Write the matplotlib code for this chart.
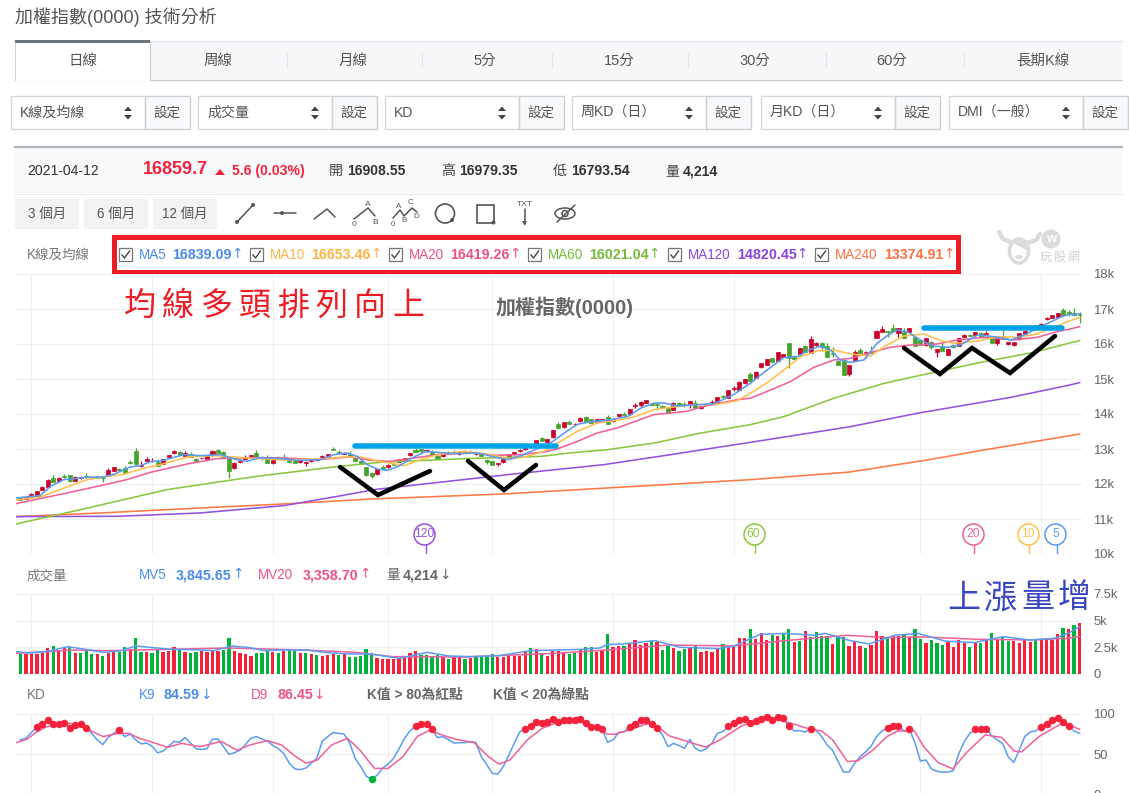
import matplotlib
matplotlib.use("Agg")
import matplotlib.pyplot as plt
from matplotlib.patches import Rectangle, FancyBboxPatch, Circle, Ellipse, Polygon

plt.rcParams['font.family'] = ['Liberation Sans', 'Noto Sans CJK TC', 'DejaVu Sans']

# daily candles
opens = [11600, 11570, 11630, 11670, 11840, 11925, 12170, 12075, 12240, 12255,
         12095, 12175, 12230, 12200, 12200, 12200, 12240, 12380, 12440, 12450,
         12640, 12950, 12515, 12670, 12650, 12630, 12580, 12760, 12875, 12925,
         12800, 12845, 12725, 12730, 12715, 12820, 12980, 12925, 12770, 12450,
         12620, 12715, 12745, 12895, 12780, 12715, 12610, 12760, 12735, 12675,
         12675, 12620, 12610, 12660, 12680, 12715, 12780, 13010, 12925, 12860,
         12865, 12770, 12665, 12485, 12315, 12275, 12485, 12480, 12570, 12630,
         12665, 12820, 12980, 13000, 12950, 12915, 12810, 12790, 12905, 12905,
         12850, 12930, 12905, 12850, 12860, 12695, 12655, 12560, 12620, 12770,
         12850, 12930, 12995, 13065, 13140, 13315, 13210, 13335, 13720, 13620,
         13780, 13705, 13790, 13915, 13855, 13760, 13820, 13915, 13790, 13950,
         14010, 13990, 14220, 14258, 14315, 14275, 14275, 14230, 14180, 14125,
         14305, 14285, 14260, 14325, 14165, 14250, 14275, 14345, 14505, 14465,
         14705, 14690, 14885, 15130, 15040, 15335, 15410, 15590, 15525, 15640,
         16020, 15670, 15715, 15945, 15755, 15965, 16020, 15945, 15755, 15515,
         15545, 15145, 15525, 15830, 15755, 15780, 16175, 16350, 16360, 16455,
         16305, 16345, 16355, 16190, 16115, 15975, 16065, 15765, 15945, 15690,
         15975, 15955, 16205, 16265, 16250, 16305, 16285, 16180, 16040, 16240,
         15990, 15985, 16135, 16300, 16470, 16535, 16515, 16705, 16745, 16785,
         16970, 16908.55, 16875, 16860]
highs = [11620, 11630, 11750, 11810, 11945, 12130, 12255, 12200, 12295, 12270,
         12240, 12240, 12315, 12240, 12255, 12240, 12455, 12490, 12460, 12525,
         12695, 13040, 12655, 12780, 12745, 12685, 12725, 12840, 12980, 12935,
         12945, 12915, 12740, 12750, 12800, 12960, 12990, 12955, 12780, 12630,
         12705, 12830, 12830, 12980, 12790, 12840, 12690, 12810, 12865, 12690,
         12685, 12690, 12665, 12700, 12720, 12815, 12860, 13050, 12980, 12900,
         12935, 12780, 12675, 12495, 12330, 12440, 12550, 12560, 12610, 12725,
         12750, 12895, 13015, 13010, 12985, 12980, 12825, 12920, 12950, 12960,
         12930, 12970, 12980, 12880, 12870, 12700, 12665, 12600, 12740, 12860,
         12920, 12990, 13090, 13130, 13270, 13340, 13290, 13550, 13760, 13780,
         13820, 13740, 13900, 13950, 13870, 13860, 13865, 13970, 13850, 13995,
         14050, 14150, 14315, 14370, 14400, 14310, 14315, 14260, 14190, 14335,
         14355, 14355, 14370, 14390, 14220, 14310, 14400, 14490, 14545, 14680,
         14790, 14945, 15000, 15190, 15215, 15460, 15565, 15600, 15770, 15710,
         16030, 15680, 15890, 15960, 16230, 16045, 16050, 16040, 15925, 15530,
         15555, 15405, 15830, 15880, 15790, 15945, 16400, 16515, 16375, 16570,
         16450, 16450, 16450, 16200, 16125, 16185, 16075, 15850, 16065, 15860,
         16000, 16170, 16280, 16290, 16340, 16340, 16380, 16195, 16190, 16450,
         16060, 16065, 16310, 16395, 16530, 16550, 16590, 16770, 16830, 16900,
         17020, 16979.35, 17020, 16925]
lows = [11550, 11560, 11620, 11660, 11830, 11920, 12050, 12065, 12185, 12050,
        12080, 12140, 12170, 12150, 12170, 12070, 12230, 12370, 12380, 12295,
        12580, 12550, 12485, 12650, 12620, 12505, 12570, 12750, 12865, 12815,
        12790, 12770, 12640, 12720, 12700, 12810, 12875, 12770, 12160, 12440,
        12590, 12700, 12735, 12780, 12695, 12590, 12580, 12680, 12700, 12590,
        12590, 12610, 12505, 12640, 12660, 12700, 12770, 12965, 12870, 12850,
        12805, 12645, 12570, 12240, 12170, 12265, 12430, 12470, 12540, 12620,
        12655, 12810, 12900, 12865, 12925, 12815, 12720, 12780, 12870, 12880,
        12840, 12900, 12880, 12840, 12790, 12580, 12530, 12505, 12610, 12760,
        12840, 12920, 12985, 13055, 13130, 13225, 13200, 13325, 13585, 13610,
        13710, 13695, 13780, 13780, 13735, 13750, 13810, 13700, 13780, 13940,
        13955, 13980, 14160, 14200, 14305, 14235, 14115, 14160, 14040, 14115,
        14220, 14200, 14180, 14160, 14150, 14240, 14265, 14335, 14450, 14455,
        14665, 14680, 14855, 14880, 15030, 15325, 15400, 15475, 15515, 15630,
        15315, 15585, 15700, 15785, 15745, 15955, 15810, 15630, 15640, 15400,
        15125, 15085, 15515, 15750, 15610, 15745, 16165, 16340, 16210, 16375,
        16210, 16170, 16345, 15945, 15975, 15930, 15850, 15640, 15810, 15680,
        15900, 15945, 16195, 16230, 16240, 16205, 16275, 16040, 15970, 16130,
        15980, 15945, 16125, 16290, 16460, 16465, 16505, 16695, 16735, 16775,
        16840, 16793.54, 16810, 16590]
closes = [11555, 11620, 11715, 11800, 11915, 12125, 12065, 12170, 12190, 12075,
          12210, 12200, 12190, 12170, 12180, 12180, 12410, 12485, 12390, 12315,
          12590, 12580, 12545, 12725, 12665, 12525, 12715, 12820, 12930, 12820,
          12885, 12770, 12650, 12745, 12790, 12950, 12880, 12770, 12370, 12600,
          12665, 12770, 12825, 12780, 12750, 12590, 12685, 12715, 12705, 12620,
          12590, 12675, 12630, 12680, 12700, 12810, 12855, 12970, 12875, 12885,
          12810, 12650, 12570, 12250, 12220, 12435, 12440, 12535, 12550, 12715,
          12745, 12885, 12925, 12935, 12965, 12820, 12725, 12915, 12885, 12885,
          12925, 12915, 12885, 12870, 12790, 12640, 12535, 12600, 12735, 12855,
          12915, 12980, 13070, 13110, 13260, 13230, 13285, 13540, 13590, 13770,
          13715, 13725, 13895, 13780, 13735, 13855, 13855, 13705, 13845, 13990,
          13960, 14140, 14255, 14353, 14390, 14250, 14250, 14195, 14040, 14305,
          14260, 14260, 14360, 14165, 14220, 14270, 14335, 14485, 14475, 14675,
          14750, 14915, 14990, 14950, 15210, 15450, 15560, 15480, 15765, 15705,
          15590, 15585, 15885, 15785, 16135, 16040, 15925, 15640, 15715, 15410,
          15125, 15400, 15765, 15755, 15775, 15755, 16370, 16425, 16335, 16380,
          16445, 16175, 16445, 15945, 15975, 16180, 15905, 15850, 15810, 15850,
          15905, 16165, 16265, 16240, 16335, 16210, 16325, 16040, 16180, 16135,
          16055, 16055, 16305, 16370, 16515, 16470, 16570, 16750, 16830, 16895,
          16840, 16859.70, 16820, 16840]

# moving averages: trading day index and level
ma5_days = [-0.8, 3.6, 5.5, 7.9, 12.2, 15.2, 17.3, 20, 21.9, 23.7, 26.1, 29.8, 32.8, 36.5, 38.9, 41.3, 43.4,
            46.8, 50.4, 54.7, 57.1, 59.5, 61.4, 63.2, 65, 66.8, 68.9, 71.7, 73.8, 76, 79.7, 83.4, 86.4, 88.8,
            91.3, 94.2, 96.6, 99.1, 101.5, 103.9, 106.9, 110.7, 113.1, 115.5, 117.3, 119.7, 123.5, 126.4,
            130, 133, 134.9, 136.7, 139.1, 141.6, 144, 145.8, 147.6, 149.4, 151.3, 153.7, 156.1, 157.9, 159.7,
            161.6, 164, 166.4, 168.9, 171.3, 174.4, 177.4, 180.5, 182.9, 185.3, 187.8, 190, 191, 193]
ma5 = [11601, 11668, 11934, 12125, 12191, 12201, 12296, 12486, 12524, 12639, 12677, 12839, 12810, 12839, 12715,
       12648, 12743, 12734, 12677, 12696, 12839, 12886, 12791, 12553, 12429, 12391, 12505, 12772, 12924, 12905,
       12867, 12886, 12772, 12696, 12810, 13010, 13172, 13457, 13705, 13781, 13819, 13933, 14171, 14314, 14314,
       14228, 14267, 14295, 14560, 14877, 15115, 15334, 15610, 15639, 15848, 15943, 15829, 15543, 15477, 15543,
       16019, 16229, 16400, 16353, 16115, 15943, 15905, 15972, 16257, 16210, 16115, 16257, 16448, 16638, 16800,
       16839.09, 16857]
ma10_days = [-0.8, 3.6, 8.5, 12.2, 14.6, 18.8, 22.5, 25.5, 30.4, 35.2, 38.9, 42.5, 48, 54.1, 59, 62, 65.6, 69.9,
             72.9, 76.6, 80.8, 85, 89.3, 92.3, 95.4, 98.4, 101.5, 105.1, 108.7, 111.8, 115.4, 119, 122.7, 127,
             130.6, 133, 136.1, 139.1, 142.2, 145.2, 148.2, 151.3, 154.9, 157.4, 161, 164.7, 167.7, 170.2, 174.4,
             178, 181.7, 185.3, 187.8, 191, 193]
ma10 = [11544, 11629, 11915, 12125, 12191, 12277, 12448, 12553, 12772, 12810, 12772, 12734, 12686, 12715, 12772,
        12772, 12648, 12524, 12696, 12858, 12933, 12858, 12715, 12791, 12933, 13219, 13505, 13743, 13819, 13914,
        14124, 14200, 14267, 14276, 14381, 14591, 14896, 15258, 15639, 15801, 15829, 15715, 15658, 15924, 16229,
        16286, 16096, 16019, 16086, 16210, 16191, 16286, 16448, 16653.46, 16752]
ma20_days = [-0.8, 8.5, 14.6, 19.4, 23.7, 30.4, 35.8, 41.9, 48, 54.1, 60.1, 63.8, 67.4, 71.7, 76, 82, 86.9, 91.1,
             95.4, 97.8, 101.5, 105.1, 108.7, 115.4, 121.5, 124.5, 130.6, 133, 136.7, 140.3, 144.6, 148.2, 151.3,
             154.3, 158.5, 162.2, 167, 170.7, 175.6, 181, 185.3, 188.9, 191, 193]
ma20 = [11439, 11744, 11953, 12125, 12334, 12572, 12724, 12753, 12743, 12696, 12772, 12677, 12648, 12743, 12839,
        12886, 12820, 12839, 12915, 13000, 13219, 13457, 13600, 13981, 14076, 14219, 14409, 14449, 14687, 14925,
        15334, 15543, 15591, 15734, 15905, 15972, 16000, 16115, 16191, 16115, 16191, 16353, 16419.26, 16495]
ma60_days = [-0.8, 11.5, 26.7, 43.1, 57.1, 65.6, 80.8, 95, 100, 107, 115.5, 124, 133, 139.1, 148.2, 157.4, 163.4,
             175.6, 184.7, 191, 193]
ma60 = [10858, 11287, 11839, 12220, 12486, 12620, 12724, 12791, 12886, 12981, 13171, 13457, 13696, 13925, 14449,
        14877, 15086, 15496, 15762, 16021.04, 16096]
ma120_days = [-0.8, 17.6, 32.8, 48, 57.1, 65, 90.5, 106.3, 118.5, 133, 151.3, 163.4, 180.5, 191, 193]
ma120 = [11068, 11077, 11173, 11382, 11629, 11850, 12296, 12553, 12839, 13190, 13640, 14020, 14477, 14820.45, 14896]
ma240_days = [-0.8, 14.6, 32.8, 48, 64, 88.1, 133, 151, 165, 175.6, 191, 193]
ma240 = [11068, 11172, 11315, 11430, 11572, 11715, 12124, 12340, 12680, 12973, 13374.91, 13430]

# volume bars, R = price up against the previous day, G = down
volumes = [1880, 1880, 1880, 1840, 1940, 2410, 2630, 2250, 2440, 2500,
           1970, 1970, 2250, 1880, 1880, 1690, 2000, 2030, 2090, 2500,
           2310, 3380, 2060, 2060, 1970, 2250, 2060, 2190, 2500, 2310,
           2060, 1970, 2060, 2190, 2090, 2190, 2190, 2250, 3380, 2120,
           1940, 1840, 1690, 2000, 2000, 2250, 2090, 1970, 2190, 2250,
           2190, 1970, 2000, 1880, 1780, 1690, 1780, 1840, 1780, 1880,
           1590, 1590, 1690, 2340, 1940, 1500, 1410, 1380, 1410, 1470,
           1590, 1940, 2160, 1810, 1780, 1720, 1810, 1590, 1410, 1590,
           1590, 1410, 1530, 1590, 1630, 1630, 1840, 1590, 1590, 1720,
           1720, 1720, 2060, 2440, 2340, 1940, 1720, 2190, 2190, 1940,
           1880, 1940, 2250, 2530, 2530, 2090, 2190, 3750, 2530, 2630,
           2630, 2810, 3190, 2720, 2880, 3060, 3030, 2250, 2630, 2440,
           2160, 2340, 2440, 2720, 2060, 2160, 2060, 2340, 2810, 2500,
           2530, 3380, 3380, 4220, 3280, 3840, 3190, 3660, 3560, 3840,
           4220, 3000, 3090, 4030, 3440, 3940, 3530, 3560, 2810, 3530,
           3440, 2630, 3000, 2630, 2440, 2720, 4030, 3560, 3440, 3560,
           3560, 3750, 3440, 4220, 3280, 2910, 3190, 2910, 2720, 3000,
           2530, 3190, 2910, 2530, 2880, 2940, 3190, 3840, 3280, 3440,
           3090, 3090, 2910, 3190, 3030, 3250, 3190, 3160, 3190, 3750,
           4310, 4214, 4590, 4780]
vol_dirs = ("GRRRRRGRRG" "RGGGRGRRGG" "RGGRGGRRRG" "RGGRRRRGGR"
            "RRRGGGRGRG" "GRGRGRRRGR" "GGGGGRRRRR" "RRRGGGGRGR"
            "RGRGGGGRRR" "RRRGRGRRRR" "GGRGGRRGRR" "GRRRRGRGGR"
            "GGRGRRRRGR" "RRRGRRRGRG" "GRGRGGGGRG" "GRRRGRRRGR"
            "RGRGGRGGGR" "RRRGRGRGRG" "GRRRRGRRRR" "GRGR")
mv5_days = [-0.8, 1.8, 4.7, 8.6, 11.9, 15.1, 18.4, 21, 24.2, 27.5, 31.4, 35.3, 38.5, 41.8, 44.4, 48.2, 52.1, 56,
            59.9, 63.8, 69, 74.2, 78.1, 82, 87.2, 93, 97.6, 102.3, 105.6, 106.9, 109.6, 115.6, 120.2, 127.5, 130.1,
            134.8, 139.4, 144.7, 146.7, 150.7, 154.6, 159.3, 163.6, 168.5, 173.8, 179.1, 183.8, 188.4, 191, 193]
mv5 = [2090, 1970, 2090, 2560, 2310, 2030, 2190, 2630, 2470, 2310, 2280, 2190, 2630, 2470, 2190, 2250, 2250, 2000,
       1880, 1880, 1470, 2030, 1690, 1630, 1720, 2190, 2250, 2310, 2440, 2750, 2810, 3130, 2500, 2380, 2630, 3720,
       3810, 3630, 3810, 3190, 2810, 3630, 3810, 3090, 2940, 3500, 3190, 3340, 3845.65, 4440]
mv20_days = [-0.8, 9.3, 15.8, 37.9, 51.5, 61.2, 67.7, 80.7, 97.6, 106.9, 118.2, 129.5, 140.7, 150.7, 158, 164.6,
             174.5, 184.4, 191, 193]
mv20 = [1940, 2250, 2190, 2440, 2250, 2030, 1630, 1590, 1940, 2250, 2720, 2630, 3190, 3630, 3410, 3470, 3250, 3190,
        3358.70, 3530]

# KD oscillator
k9 = [67.8, 70, 77, 84, 88, 92, 88, 88, 89, 83, 86, 88, 83, 76, 68, 62, 71, 76, 80.5, 72,
      75, 68, 63, 64, 60, 52, 54, 60, 66, 65, 71, 64, 57, 56, 57, 69, 69, 59.5, 50, 52,
      55, 62, 70, 72, 69, 66.5, 61, 57, 51, 39, 32, 31, 33, 39, 45, 66, 72, 77, 76, 75,
      64, 45, 35, 23, 19.4, 24, 33, 38, 45, 57, 70, 79, 85.5, 88, 87.6, 81, 70.7, 72, 68, 64,
      64.5, 64.5, 66, 64.5, 47, 37, 26.5, 25.6, 35, 49, 64, 78, 82, 85.5, 90, 89, 90, 94, 90, 92,
      92, 92, 94, 89, 84, 84, 81.4, 65, 68, 77, 78, 84, 87.6, 92, 93, 87, 83, 74, 59.5, 63.6,
      61, 57.4, 68.6, 57.4, 54, 57, 63.6, 76, 78, 85, 89, 92, 94, 89, 91, 94, 96, 93, 96, 94.6,
      85, 79, 79.5, 77.7, 81.4, 79.6, 72, 61.6, 55, 41, 28, 28, 39, 47, 53, 60, 72, 79, 83, 84.7,
      85.5, 79, 81, 64.5, 41.7, 43, 32, 29, 28, 28, 30, 51, 66, 76, 81, 81, 82, 73, 68, 63,
      47, 40, 55, 72, 77.7, 79, 84, 87, 92, 95.5, 90.5, 84.59, 79, 76]
d9_days = [-0.8, 1.2, 2.8, 4.7, 7, 9, 11.2, 13.2, 15.1, 17.7, 19.8, 21.6, 23.6, 26.8, 29.4, 32.7, 36.6, 39.5, 41.8,
           45, 47.6, 50.2, 52.1, 54.1, 56.7, 59.6, 61.9, 64.5, 67, 69.7, 72.3, 74.6, 76.8, 79.4, 82.7, 85.3, 87.2,
           89.2, 92.4, 95, 97.6, 102.3, 105, 107, 108.3, 110.9, 114.2, 116.2, 118.2, 121.5, 124.8, 127.5, 131.5,
           135.4, 138.7, 140.7, 144, 146, 148, 150.7, 152.6, 155.3, 157.9, 159.9, 162.9, 164.6, 167.2, 169.9,
           172.5, 175.8, 178.8, 181.1, 182.4, 185.8, 189.7, 191, 193]
d9 = [64.5, 68.6, 77, 84, 87.6, 88.4, 86.4, 78, 72, 76, 76, 70, 66, 58.7, 63.6, 59.5, 66, 55, 61.6,
      67, 61.6, 47, 39, 43, 61.6, 70, 55, 32.6, 32.6, 47, 72, 80, 74, 68.6, 64.5, 47, 38,
      43, 68, 82, 89, 90, 82, 75, 75, 80, 88, 84, 73, 66, 59, 68, 85.5,
      94, 92, 88, 81, 79, 68, 41, 42, 55, 72, 79, 79, 59.5, 40, 32,
      53, 74, 71, 54, 53, 73, 88, 86.45, 81]

grid_days = [2, 24, 46, 67, 86, 108, 130, 164, 186]
price_ticks = [10000, 11000, 12000, 13000, 14000, 15000, 16000, 17000, 18000]
price_labels = ['10k', '11k', '12k', '13k', '14k', '15k', '16k', '17k', '18k']
vol_ticks = [0, 2500, 5000, 7500]
vol_labels = ['0', '2.5k', '5k', '7.5k']
kd_ticks = [0, 50, 100]
kd_labels = ['0', '50', '100']

ma_names = ['MA5', 'MA10', 'MA20', 'MA60', 'MA120', 'MA240']
ma_values = ['16839.09', '16653.46', '16419.26', '16021.04', '14820.45', '13374.91']
ma_text_colors = ['#4a8cf0', '#ffb347', '#f0508c', '#76bb3c', '#8a47e0', '#ff7043']
ma_line_colors = ['#5b9bf0', '#ffc04d', '#f0609a', '#8cc63f', '#9254de', '#ff7a45']
ma_periods = [120, 60, 20, 10, 5]

tab_names = ['日線', '周線', '月線', '5分', '15分', '30分', '60分', '長期K線']
select_names = ['K線及均線', '成交量', 'KD', '周KD（日）', '月KD（日）', 'DMI（一般）']

W, H = 1129, 793
CANDLE_RED, CANDLE_GREEN = '#c9002b', '#45a22a'
VOL_RED, VOL_GREEN = '#f5223c', '#00b33c'
GRID = '#efefef'
days = list(range(len(closes)))
x_left = -0.8
x_right = 193.44


def pts(px):
    return px * 0.72


def panel(top, bottom):
    # axes placed by pixel rows, right edge leaves room for the tick labels
    ax = fig.add_axes([16 / W, 1 - bottom / H, (1082 - 16) / W, (bottom - top) / H], zorder=2)
    ax.patch.set_alpha(0)
    for s in ax.spines.values():
        s.set_visible(False)
    ax.set_xlim(x_left, x_right)
    ax.set_xticks(grid_days)
    ax.yaxis.tick_right()
    ax.tick_params(length=0, labelbottom=False, labelsize=pts(13), labelcolor='#666666', pad=8)
    ax.grid(True, color=GRID, lw=0.8)
    ax.set_axisbelow(True)
    return ax


fig = plt.figure(figsize=(W / 100, H / 100), dpi=100, facecolor='white')

# page furniture lives in a pixel-based axes underneath the charts
ui = fig.add_axes([0, 0, 1, 1], zorder=1)
ui.set_xlim(0, W)
ui.set_ylim(H, 0)
ui.axis('off')


def label(x, y, s, px=14, color='#555555', weight='normal', ha='left', target=None):
    (target or ui).text(x, y, s, fontsize=pts(px), color=color, fontweight=weight, ha=ha, va='center')


def arrow(x, y, s, color):
    # DejaVu arrows are narrow enough to sit right after the value
    ui.text(x, y, s, fontsize=pts(13.5), color=color, ha='center', va='center', family=['DejaVu Sans'])


label(15, 17, '加權指數(0000) 技術分析', px=18)

# tab bar
ui.add_patch(Rectangle((15, 41), 1107, 38, fc='#f7f8fa', ec='none'))
ui.plot([15, 1122], [41, 41], color='#e2e5e8', lw=0.8)
ui.plot([15, 1122], [79.5, 79.5], color='#c9cdd1', lw=0.9)
ui.add_patch(Rectangle((15, 41), 135, 39.5, fc='white', ec='none', zorder=2))
ui.plot([15, 15], [41, 80], color='#d0d4d8', lw=0.8, zorder=3)
ui.plot([150, 150], [41, 80], color='#c9cdd1', lw=0.8, zorder=3)
ui.add_patch(Rectangle((15, 40), 135, 3, fc='#6c757d', ec='none', zorder=3))
for x in [287, 422, 552, 688, 826, 964]:
    ui.plot([x, x], [53, 67], color='#e4e6e9', lw=0.8)
for cx, name in zip([83, 218, 353, 485, 619, 755, 892, 1043], tab_names):
    label(cx, 61, name, px=14.5, ha='center', target=ui)

# dropdowns with their settings buttons
select_left = [11, 198, 385, 572, 761, 949]
for x0, name in zip(select_left, select_names):
    ui.add_patch(Rectangle((x0, 96), 134, 33, fc='white', ec='#d5d9dd', lw=1))
    ui.add_patch(Rectangle((x0 + 134, 96), 45, 33, fc='#f8f9fa', ec='#ccd0d4', lw=1))
    label(x0 + 9, 113, name, px=14)
    label(x0 + 156, 113, '設定', px=13.5, ha='center')
    ax_x = x0 + 117
    ui.add_patch(Polygon([(ax_x - 4, 111), (ax_x + 4, 111), (ax_x, 106.5)], fc='#444444', ec='none'))
    ui.add_patch(Polygon([(ax_x - 4, 115), (ax_x + 4, 115), (ax_x, 119.5)], fc='#444444', ec='none'))

# quote strip
ui.add_patch(Rectangle((15, 147), 1107, 46, fc='#f8f9fa', ec='none'))
ui.plot([15, 1122], [147, 147], color='#aeb5bb', lw=1.6)
ui.plot([15, 1122], [193.5, 193.5], color='#e9ecef', lw=0.8)
label(27, 171, '2021-04-12', px=14, color='#333333')
label(143, 170, '16859.7', px=18, color='#f5223c', weight='bold')
ui.add_patch(Polygon([(215, 175), (225, 175), (220, 169)], fc='#f5223c', ec='none'))
label(232, 171, '5.6 (0.03%)', px=14, color='#f5223c', weight='bold')
for x, name, value in [(329, '開', '16908.55'), (441, '高', '16979.35'), (553, '低', '16793.54'), (665, '量', '4,214')]:
    label(x, 171, name, px=14, color='#444444')
    label(x + 18, 171, value, px=14, color='#333333', weight='bold')

# range buttons
for x0, w, name in [(15, 64, '3 個月'), (84, 64, '6 個月'), (153, 64, '12 個月')]:
    ui.add_patch(FancyBboxPatch((x0 + 2, 201), w - 4, 26, boxstyle='round,pad=2', fc='#f1f3f5', ec='none'))
    label(x0 + w / 2, 214, name, px=13.5, ha='center')

# drawing tool icons
ICON = '#555555'


def icon_line(xs, ys, lw=1.1):
    ui.plot(xs, ys, color=ICON, lw=lw, solid_capstyle='round')


def icon_dot(x, y, r=2):
    ui.add_patch(Circle((x, y), r, fc=ICON, ec='none'))


icon_line([237, 253], [222, 205])
icon_dot(237, 222)
icon_dot(253, 205)
icon_line([274, 296], [213, 213])
icon_dot(282, 213)
icon_line([314, 327, 335], [219, 209, 217])
icon_line([354, 368, 375], [219, 208, 216])
label(368, 204, 'A', px=8.5, ha='center', color=ICON)
label(354, 225, '0', px=8.5, ha='center', color=ICON)
label(375, 222, 'B', px=8.5, ha='center', color=ICON)
icon_line([393, 400, 404, 412, 417], [218, 210, 216, 208, 212])
label(399, 206, 'A', px=8, ha='center', color=ICON)
label(411, 202, 'C', px=8, ha='center', color=ICON)
label(393, 224, '0', px=8, ha='center', color=ICON)
label(404, 221, 'B', px=8, ha='center', color=ICON)
label(416, 216, 'D', px=8, ha='center', color=ICON)
ui.add_patch(Circle((445, 213.5), 9.5, fc='none', ec=ICON, lw=1.2))
icon_dot(452, 220)
ui.add_patch(Rectangle((476.5, 205), 17.5, 17.5, fc='none', ec=ICON, lw=1.2))
icon_dot(493.5, 222.5)
label(524.5, 205, 'TXT', px=8.5, ha='center', color=ICON)
icon_line([524.5, 524.5], [209, 224])
ui.add_patch(Polygon([(522, 221), (527, 221), (524.5, 225.5)], fc=ICON, ec='none'))
ui.add_patch(Ellipse((565, 213.5), 20, 11, fc='none', ec=ICON, lw=1.1))
ui.add_patch(Circle((565, 213.5), 3, fc='none', ec=ICON, lw=1.1))
icon_line([557, 575], [222, 205])

# moving average legend row
label(27, 255, 'K線及均線', px=13.5, color='#777777')
ma_checks = [119, 250, 389, 528, 668, 815]
ma_text_x = [139, 270, 409, 548, 688, 835]
ma_val_x = [172, 311, 450, 589, 737, 884]
ma_arrow_x = [237, 376, 515, 654, 802, 949]
for i in range(6):
    cx = ma_checks[i]
    ui.add_patch(Rectangle((cx, 248), 13, 13, fc='white', ec='#777777', lw=0.9))
    ui.plot([cx + 3, cx + 5.5, cx + 10.5], [255, 258, 251], color='#444444', lw=1)
    label(ma_text_x[i], 255, ma_names[i], px=13.5, color=ma_text_colors[i])
    label(ma_val_x[i], 255, ma_values[i], px=14.2, color=ma_text_colors[i], weight='bold')
    arrow(ma_arrow_x[i], 254.5, '↑', ma_text_colors[i])
ui.add_patch(Rectangle((113.5, 236.5), 844, 35, fc='none', ec='#ed1c24', lw=pts(5), zorder=4))

# watermark logo
WM = '#dcdcdc'
ui.plot([999, 1003, 1011], [232, 239, 242], color=WM, lw=3.2, solid_capstyle='round')
ui.plot([1040, 1036, 1028], [234, 240, 243], color=WM, lw=3.2, solid_capstyle='round')
ui.add_patch(Ellipse((1019, 251), 19, 24, fc='white', ec=WM, lw=2.6))
ui.add_patch(Polygon([(1010, 242), (1029, 240), (1028, 251), (1019, 246)], fc=WM, ec='none'))
ui.add_patch(Ellipse((1019, 257), 8, 4, fc=WM, ec='none'))
ui.add_patch(Circle((1051, 239), 9.5, fc=WM, ec='none'))
label(1051, 238.5, 'w', px=13, color='white', weight='bold', ha='center')
for cx, ch in zip([1046, 1060, 1074], '玩股網'):
    label(cx, 257.5, ch, px=12, color='#d0d0d0', ha='center')

# volume and KD legend rows
label(27, 575, '成交量', px=13.5, color='#777777')
label(139, 575, 'MV5', px=13.5, color='#4a8cf0')
label(176, 575, '3,845.65', px=14.2, color='#4a8cf0', weight='bold')
arrow(238, 574.5, '↑', '#4a8cf0')
label(258, 575, 'MV20', px=13.5, color='#f0508c')
label(303, 575, '3,358.70', px=14.2, color='#f0508c', weight='bold')
arrow(365, 574.5, '↑', '#f0508c')
label(386, 575, '量', px=13.5, color='#666666')
label(403, 575, '4,214', px=14.2, color='#666666', weight='bold')
arrow(445, 574.5, '↓', '#666666')
label(27, 695, 'KD', px=13.5, color='#777777')
label(139, 695, 'K9', px=13.5, color='#4a8cf0')
label(164, 695, '84.59', px=14.2, color='#4a8cf0', weight='bold')
arrow(206, 694.5, '↓', '#4a8cf0')
label(251, 695, 'D9', px=13.5, color='#f0508c')
label(277, 695, '86.45', px=14.2, color='#f0508c', weight='bold')
arrow(319, 694.5, '↓', '#f0508c')
label(367, 695, 'K值 > 80為紅點', px=13.8, color='#666666', weight='bold')
label(493, 695, 'K值 < 20為綠點', px=13.8, color='#666666', weight='bold')

# price panel
ax = panel(274, 554)
ax.set_ylim(10000, 18000)
ax.set_yticks(price_ticks, price_labels)
candle_colors = [CANDLE_RED if c >= o else CANDLE_GREEN for o, c in zip(opens, closes)]
ax.vlines(days, lows, highs, colors=candle_colors, lw=0.9, zorder=2)
ax.bar(days, [abs(c - o) for o, c in zip(opens, closes)], bottom=[min(o, c) for o, c in zip(opens, closes)],
       width=0.74, color=candle_colors, edgecolor=candle_colors, linewidth=0.5, zorder=3)
ma_series = [(ma240_days, ma240), (ma120_days, ma120), (ma60_days, ma60), (ma20_days, ma20), (ma10_days, ma10),
             (ma5_days, ma5)]
for (ds, vs), color in zip(ma_series, ma_line_colors[::-1]):
    ax.plot(ds, vs, color=color, lw=1.15, zorder=4, solid_joinstyle='round')

# period markers under the bar each average starts from
marker_colors = [ma_line_colors[4], ma_line_colors[3], ma_line_colors[2], ma_line_colors[1], ma_line_colors[0]]
for period, color in zip(ma_periods, marker_colors):
    x = len(closes) - period
    ax.plot([x - 0.15, x - 0.15], [10000, 10300], color=color, lw=1, zorder=4)
    ax.plot([x - 0.4], [10570], 'o', ms=pts(21), mfc='white', mec=color, mew=1.1, zorder=5)
    ax.text(x - 0.4, 10570, str(period), fontsize=pts(12), color=color, ha='center', va='center', zorder=6)

# volume panel
vx = panel(594, 674)
vx.set_ylim(0, 7500)
vx.set_yticks(vol_ticks, vol_labels)
vx.bar(days, volumes, width=0.6, linewidth=0, color=[VOL_RED if d == 'R' else VOL_GREEN for d in vol_dirs], zorder=2)
vx.plot(mv20_days, mv20, color=ma_line_colors[2], lw=1.1, zorder=3)
vx.plot(mv5_days, mv5, color=ma_line_colors[0], lw=1.1, zorder=3)

# KD panel, runs off the bottom of the page
kx = panel(714, 794.7)
kx.set_ylim(0, 100)
kx.set_yticks(kd_ticks, kd_labels)
kx.plot(days, k9, color=ma_line_colors[0], lw=1.1, zorder=3)
kx.plot(d9_days, d9, color=ma_line_colors[2], lw=1.1, zorder=3)
hot = [d for d in days if k9[d] > 80]
cold = [d for d in days if k9[d] < 20]
kx.plot(hot, [k9[d] for d in hot], 'o', color=VOL_RED, ms=pts(7.5), mew=0, zorder=4)
kx.plot(cold, [k9[d] for d in cold], 'o', color=VOL_GREEN, ms=pts(7.5), mew=0, zorder=4)

# hand-drawn notes on top of everything
notes = fig.add_axes([0, 0, 1, 1], zorder=3)
notes.set_xlim(0, W)
notes.set_ylim(H, 0)
notes.axis('off')
notes.patch.set_alpha(0)
label(496, 307, '加權指數(0000)', px=20, color='#666666', weight='bold', target=notes)
for i, ch in enumerate('均線多頭排列向上'):
    notes.text(140 + 38.3 * i, 307, ch, fontsize=pts(32), color='#ed1c24', ha='center', va='center')
for i, ch in enumerate('上漲量增'):
    notes.text(964 + 36.8 * i, 599, ch, fontsize=pts(33), color='#3a45c0', ha='center', va='center')
for xs, ys in [([355, 556], [446, 446]), ([924, 1062], [328, 328])]:
    notes.plot(xs, ys, color='#00a3e8', lw=pts(5.5), solid_capstyle='round')
for xs, ys in [([340, 378, 430], [467, 495, 471]),
               ([468, 504, 536], [461, 490, 465]),
               ([904, 940, 972, 1010, 1055], [348, 374, 348, 373, 336])]:
    notes.plot(xs, ys, color='black', lw=pts(4.5), solid_capstyle='round', solid_joinstyle='miter')

fig.savefig('out.png', dpi=100)
